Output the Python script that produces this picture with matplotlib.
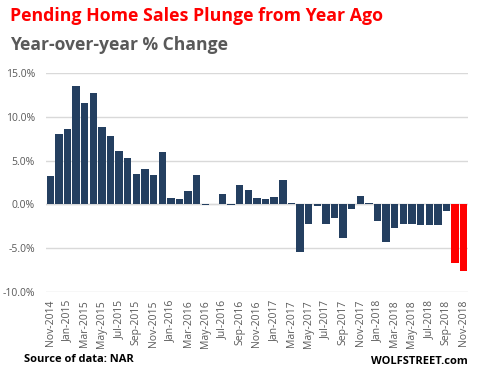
import matplotlib
matplotlib.use("Agg")
import matplotlib.pyplot as plt
import numpy as np

# monthly labels, Nov 2014 .. Nov 2018
months = ["Jan", "Feb", "Mar", "Apr", "May", "Jun",
          "Jul", "Aug", "Sep", "Oct", "Nov", "Dec"]
labels = ["Nov-2014", "Dec-2014"] + [f"{m}-{y}" for y in range(2015, 2019) for m in months][:47]

# year-over-year % change
yoy = [3.2, 8.0, 8.6, 13.5, 11.6, 12.7, 8.8, 7.8, 6.1, 5.3, 3.5, 4.1, 3.4, 6.0,
       0.7, 0.6, 1.5, 3.4, -0.1, 0.0, 1.2, -0.1, 2.2, 1.6, 0.7, 0.6, 0.8, 2.8,
       0.1, -5.5, -2.3, -0.2, -2.3, -1.6, -3.8, -0.5, 1.0, 0.1, -1.9, -4.3,
       -2.7, -2.2, -2.2, -2.4, -2.4, -2.4, -0.8, -6.7, -7.6]

highlight = ["Oct-2018", "Nov-2018"]

navy = "#243F60"
red = "#FF0000"
grey = "#595959"

fig = plt.figure(figsize=(4.78, 3.83), dpi=100)
ax = fig.add_axes([0.0962, 0.2384, 0.979 - 0.0962, 0.8086 - 0.2384])

x = np.arange(len(yoy))
colors = [red if lab in highlight else navy for lab in labels]
ax.bar(x, yoy, width=0.86, color=colors, zorder=2)

ax.set_xlim(-0.5, len(yoy) - 0.5)
ax.set_ylim(-10, 15)
ax.set_yticks([-10, -5, 0, 5, 10, 15])
ax.set_yticklabels([f"{v:.1f}%" for v in [-10, -5, 0, 5, 10, 15]])
ax.yaxis.grid(True, color="#D9D9D9", linewidth=1.0, zorder=0)
ax.axhline(0, color="#D9D9D9", linewidth=1.0, zorder=1)

ax.set_xticks(x[::2])
ax.set_xticklabels(labels[::2], rotation=90)

ax.tick_params(axis="both", length=0, labelsize=7.5, labelcolor=grey)
ax.tick_params(axis="y", pad=8)
ax.tick_params(axis="x", pad=6)
for lab in ax.get_xticklabels() + ax.get_yticklabels():
    lab.set_fontfamily("Open Sans")

for side in ["top", "right", "left", "bottom"]:
    ax.spines[side].set_visible(False)

fig.text(10 / 478, 1 - 16 / 383, "Pending Home Sales Plunge from Year Ago",
         color=red, fontsize=12.8, fontweight="bold", family="Open Sans", va="center")
fig.text(10 / 478, 1 - 45 / 383, "Year-over-year % Change",
         color=grey, fontsize=12.6, fontweight="bold", family="Open Sans", va="center")
fig.text(24 / 478, 1 - 360 / 383, "Source of data: NAR",
         color="black", fontsize=8, fontweight="bold", family="Open Sans", va="center")
fig.text(468 / 478, 1 - 362 / 383, "WOLFSTREET.com",
         color="black", fontsize=8, fontweight="bold", family="Open Sans",
         va="center", ha="right")

fig.savefig("out.png", dpi=100)
